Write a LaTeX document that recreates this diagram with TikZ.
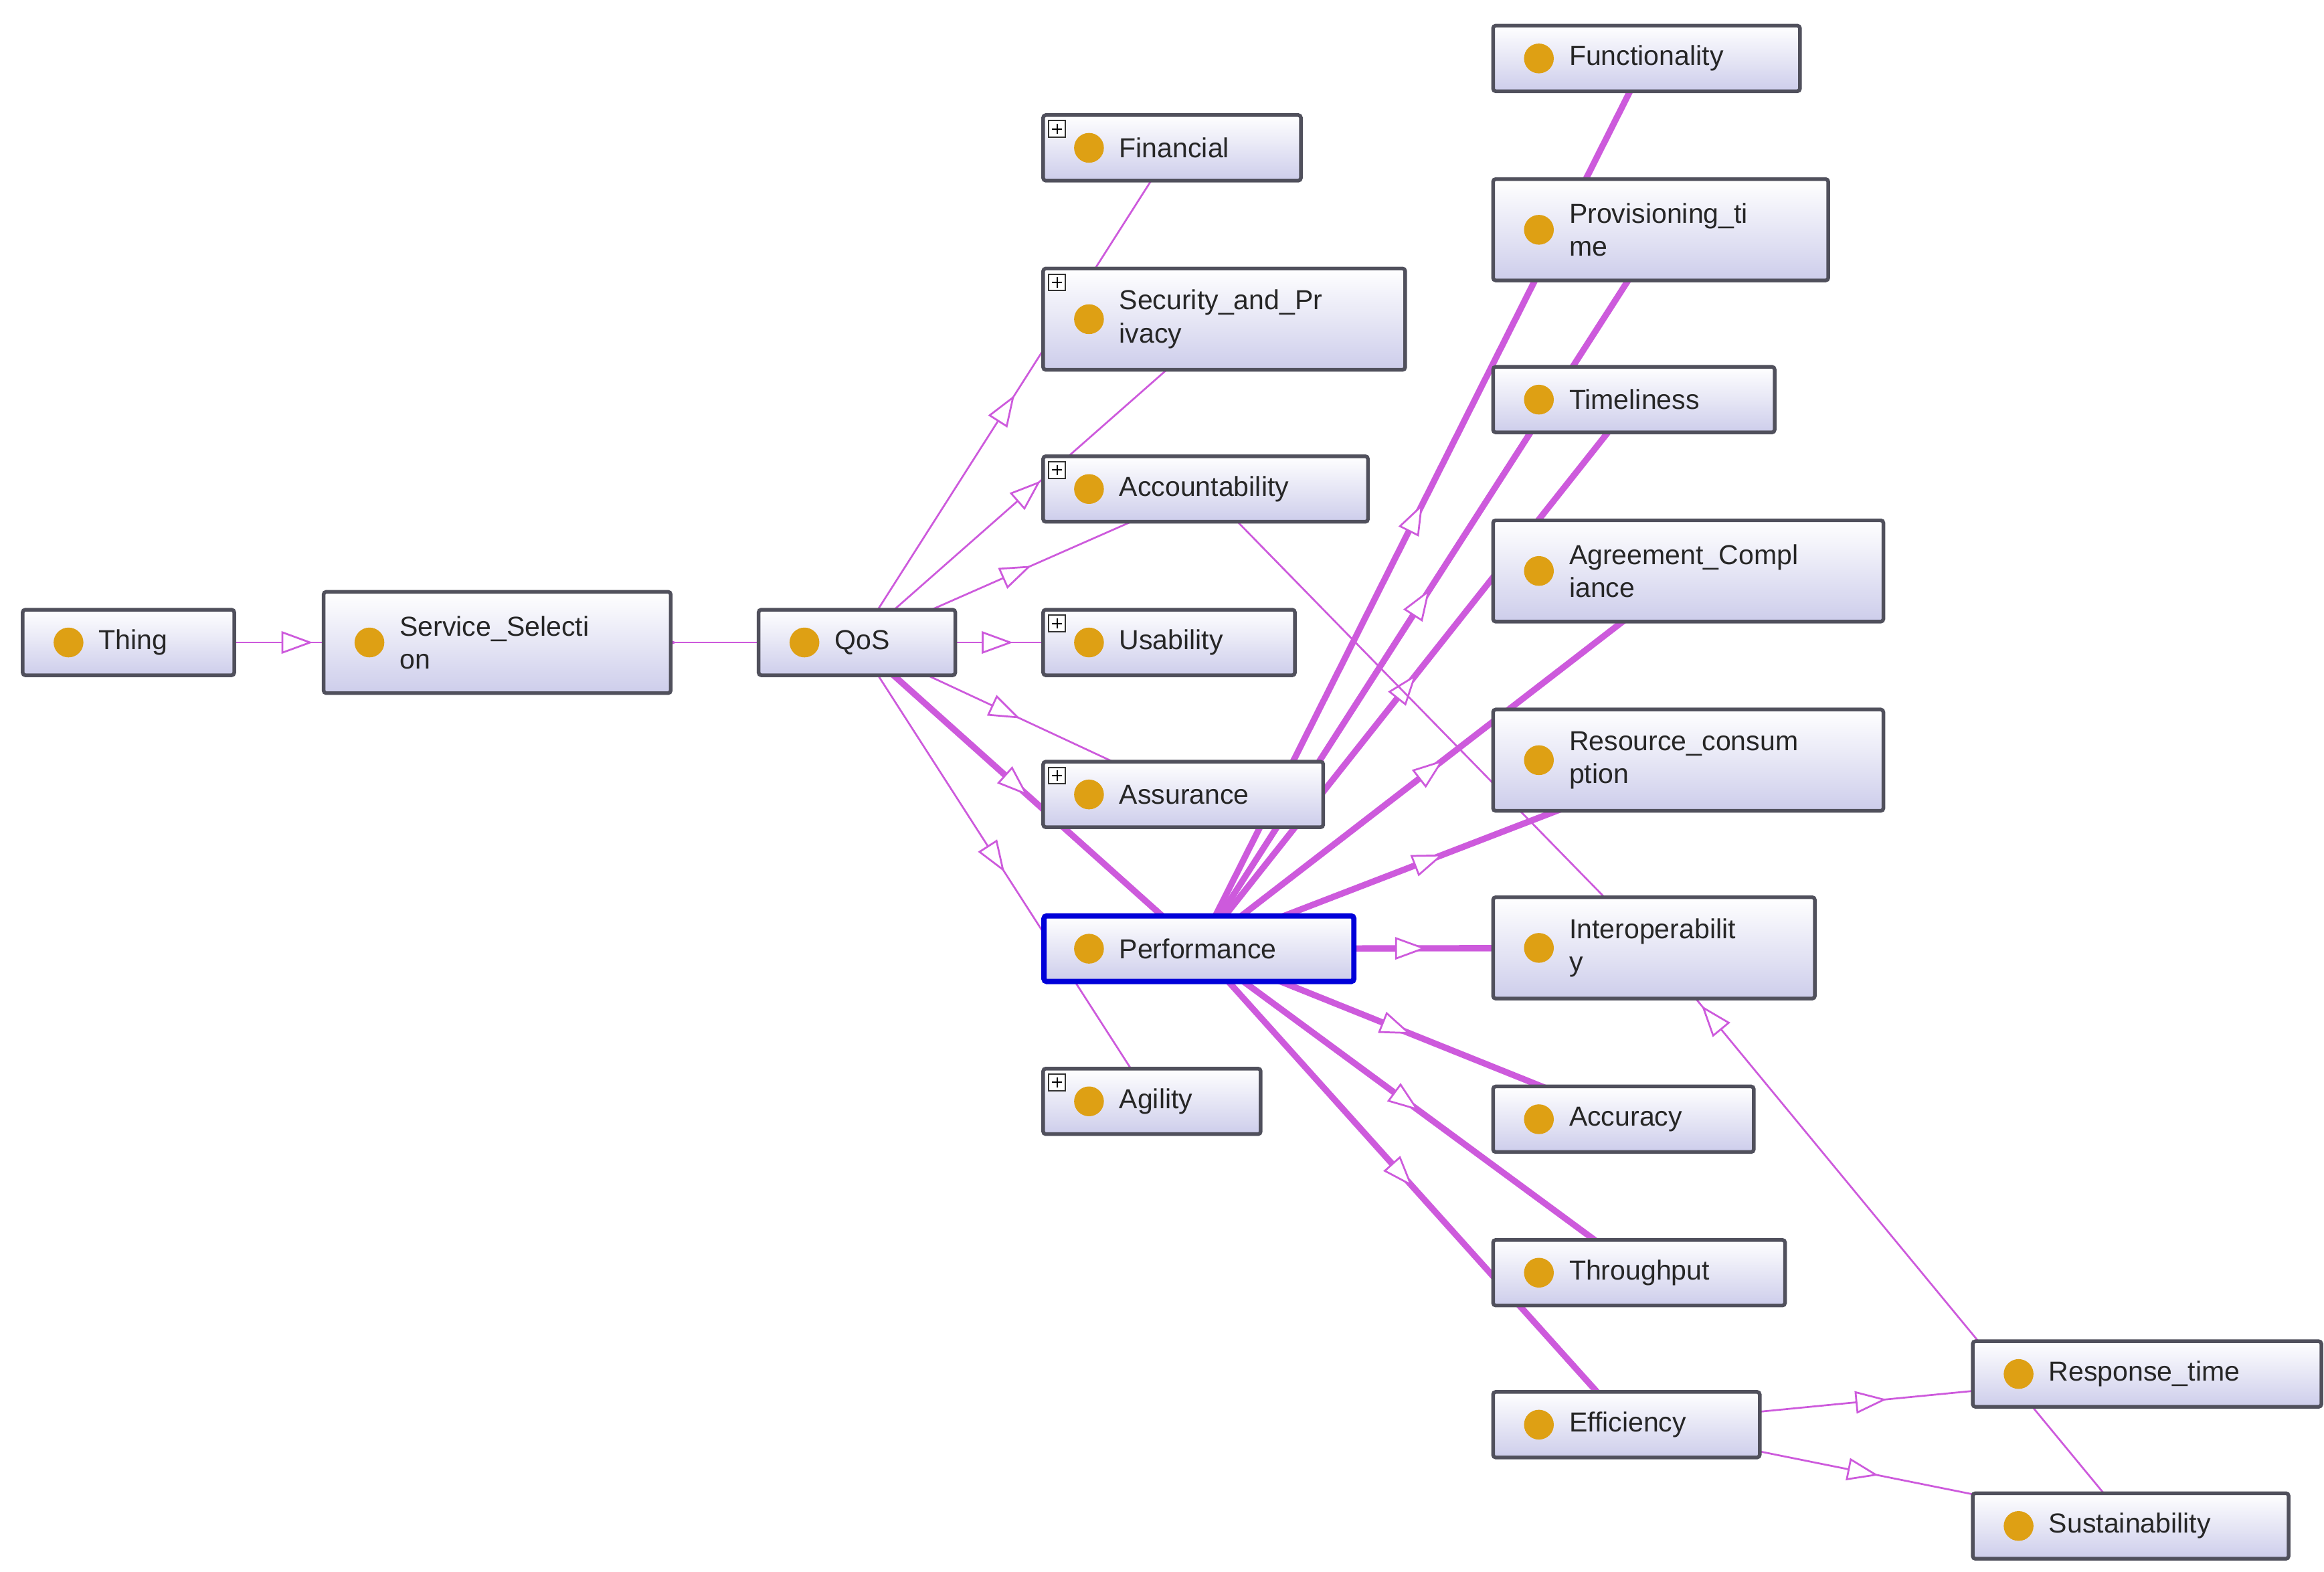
\documentclass[tikz,border=0pt]{standalone}
\usepackage{fontspec}
\setmainfont{Liberation Sans}
\usetikzlibrary{arrows.meta,decorations.markings,backgrounds,calc}
\definecolor{linkc}{RGB}{205,90,220}
\definecolor{boxbot}{RGB}{205,205,235}
\definecolor{frame}{RGB}{80,80,92}
\definecolor{bulb}{RGB}{222,160,20}
\tikzset{
    cls/.style={rectangle,rounded corners=1pt,draw=frame,line width=1.4pt,
        top color=white,bottom color=boxbot,inner sep=0pt},
    sel/.style={draw=blue!85!black,line width=2pt},
    isa/.style={draw=linkc,line width=0.7pt,postaction={decorate},
        decoration={markings,mark=at position #1 with
        {\arrow{Triangle[open,length=0.42cm,width=0.3cm,line width=0.7pt,fill=white]}}}},
    isa/.default=0.5,
    thickisa/.style={isa=#1,line width=2.4pt},
    thickisa/.default=0.5,
    plain/.style={draw=linkc,line width=0.7pt}
}
% Syntax: \ontoclass[node options](name)(left,top)(width,height){text}
\def\ontoclass[#1](#2)(#3,#4)(#5,#6)#7{
    \node[cls,#1,anchor=north west,minimum width={#5*0.02cm},minimum height={#6*0.02cm}]
        (#2) at (#3,#4) {};
    \fill[bulb] ($(#2.west)+(0.64cm,0)$) circle (0.2cm);
    \node[anchor=west,align=left,text=black!85,font=\fontsize{10.5}{12.6}\selectfont,inner sep=0pt]
        at ($(#2.west)+(1.04cm,0)$) {#7};
}
% small expand box in the top-left corner
\def\plusbox(#1){
    \draw[black!80,fill=white,line width=0.5pt] ($(#1.north west)+(0.1cm,-0.1cm)$) rectangle +(0.22cm,-0.22cm);
    \draw[black,line width=0.5pt] ($(#1.north west)+(0.21cm,-0.14cm)$) -- +(0,-0.14cm)
        ($(#1.north west)+(0.14cm,-0.21cm)$) -- +(0.14cm,0);
}

\begin{document}
\begin{tikzpicture}[x=0.02cm,y=-0.02cm]
    \useasboundingbox (0,0) rectangle (1560,1055);

    \ontoclass[](thing)(14,408)(142,44){Thing}
    \ontoclass[](servsel)(216,396)(233,68){Service\_Selecti\\on}
    \ontoclass[](qos)(508,408)(132,44){QoS}

    \ontoclass[](financial)(699,76)(173,44){Financial}
    \ontoclass[](security)(699,179)(243,68){Security\_and\_Pr\\ivacy}
    \ontoclass[](account)(699,305)(218,44){Accountability}
    \ontoclass[](usability)(699,408)(169,44){Usability}
    \ontoclass[](assurance)(699,510)(188,44){Assurance}
    \ontoclass[sel](perform)(699,613)(208,44){Performance}
    \ontoclass[](agility)(699,716)(146,44){Agility}
    \foreach \n in {financial,security,account,usability,assurance,agility}
        {\plusbox(\n)}

    \ontoclass[](function)(1001,16)(206,44){Functionality}
    \ontoclass[](provision)(1001,119)(225,68){Provisioning\_ti\\me}
    \ontoclass[](timely)(1001,245)(189,44){Timeliness}
    \ontoclass[](agreement)(1001,348)(262,68){Agreement\_Compl\\iance}
    \ontoclass[](resource)(1001,475)(262,68){Resource\_consum\\ption}
    \ontoclass[](interop)(1001,601)(216,68){Interoperabilit\\y}
    \ontoclass[](accuracy)(1001,728)(175,44){Accuracy}
    \ontoclass[](through)(1001,831)(196,44){Throughput}
    \ontoclass[](effic)(1001,933)(179,44){Efficiency}
    \ontoclass[](response)(1323,899)(234,44){Response\_time}
    \ontoclass[](sustain)(1323,1001)(212,44){Sustainability}

    \begin{scope}[on background layer]
        \draw[isa] (thing.center) -- (servsel.center);
        \draw[isa] (servsel.center) -- (qos.center);
        \foreach \n in {financial,security,account,usability,assurance,agility}
            {\draw[isa] (qos.center) -- (\n.center);}
        \draw[thickisa] (qos.center) -- (perform.center);
        \foreach \n in {function,provision,timely,agreement,resource,interop,accuracy,through,effic}
            {\draw[thickisa] (perform.center) -- (\n.center);}
        \draw[plain] (account.center) -- (interop.center);
        \draw[isa=0.9] (sustain.center) -- (interop.center);
        \draw[isa] (effic.center) -- (response.center);
        \draw[isa] (effic.center) -- (sustain.center);
    \end{scope}
\end{tikzpicture}
\end{document}
